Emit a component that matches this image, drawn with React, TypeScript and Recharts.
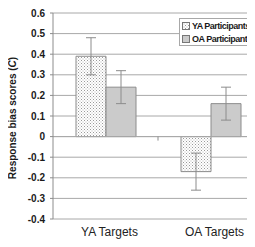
import {
  Bar,
  BarChart,
  CartesianGrid,
  ErrorBar,
  ReferenceLine,
  XAxis,
  YAxis,
} from "recharts";

const categories = ["YA Targets", "OA Targets"];
const yaParticipants = [0.39, -0.17];
const oaParticipants = [0.24, 0.16];
const yaErrors = [0.09, 0.09];
const oaErrors = [0.08, 0.08];
const yTicks = [-0.4, -0.3, -0.2, -0.1, 0, 0.1, 0.2, 0.3, 0.4, 0.5, 0.6];

const FONT = "'Liberation Sans', Arial, Helvetica, sans-serif";
const GRID = "#a8a8a8";
const EDGE = "#8c8c8c";
const OA_FILL = "#cbcbcb";

const data = categories.map((name, i) => ({
  name,
  ya: yaParticipants[i],
  oa: oaParticipants[i],
  yaErr: yaErrors[i],
  oaErr: oaErrors[i],
}));

const legendItems = [
  { label: "YA Participants", fill: "url(#dots)" },
  { label: "OA Participants", fill: OA_FILL },
];

/** Excel-style boxed legend, placed over the top-right of the plot. */
function LegendBox() {
  return (
    <div
      style={{
        position: "absolute",
        top: 18,
        left: 179,
        width: 90,
        border: `1px solid ${GRID}`,
        background: "#fff",
        padding: "0 0 0 2px",
        fontFamily: FONT,
        fontWeight: 700,
        fontSize: 9,
        letterSpacing: -0.5,
        color: "#1a1a1a",
        whiteSpace: "nowrap",
      }}
    >
      {legendItems.map((it) => (
        <div key={it.label} style={{ height: 13, display: "flex", alignItems: "center" }}>
          <svg width={8} height={8} style={{ marginRight: 2, flexShrink: 0 }}>
            <rect x={0.5} y={0.5} width={7} height={7} fill={it.fill} stroke="#777" />
          </svg>
          <span style={{ flexShrink: 0 }}>{it.label}</span>
        </div>
      ))}
    </div>
  );
}

// eslint-disable-next-line @typescript-eslint/no-explicit-any
function CategoryTick({ x, y, payload }: any) {
  return (
    <text
      x={x + 4}
      y={y + 9}
      textAnchor="middle"
      fontFamily={FONT}
      fontSize={12}
      fill="#222"
    >
      {payload.value}
    </text>
  );
}

// eslint-disable-next-line @typescript-eslint/no-explicit-any
function YLabel({ viewBox }: any) {
  const cx = viewBox.x + 16;
  const cy = viewBox.y + viewBox.height / 2 + 2;
  return (
    <text
      x={cx}
      y={cy}
      transform={`rotate(-90 ${cx} ${cy})`}
      textAnchor="middle"
      fontFamily={FONT}
      fontWeight={700}
      fontSize={10}
      fill="#1a1a1a"
    >
      Response bias scores (<tspan fontStyle="italic">C</tspan>)
    </text>
  );
}

// small category divider tick sitting on the zero line
// eslint-disable-next-line @typescript-eslint/no-explicit-any
function ZeroTick({ viewBox }: any) {
  const mx = viewBox.x + viewBox.width / 2;
  return <line x1={mx} x2={mx} y1={viewBox.y} y2={viewBox.y + 4} stroke={EDGE} />;
}

export default function App() {
  return (
    <div
      style={{
        width: 255,
        height: 247,
        margin: -8,
        overflow: "hidden",
        position: "relative",
        background: "#fff",
      }}
    >
      <BarChart
        width={270}
        height={247}
        data={data}
        margin={{ top: 13, right: 7, bottom: 0, left: 0 }}
        barGap={0}
        barSize={30}
      >
        <defs>
          <pattern id="dots" width={3} height={3} patternUnits="userSpaceOnUse">
            <rect width={3} height={3} fill="#fff" />
            <rect x={0} y={0} width={1} height={1} fill="#9a9a9a" />
            <rect x={1.5} y={1.5} width={1} height={1} fill="#b5b5b5" />
          </pattern>
        </defs>
        <CartesianGrid stroke={GRID} vertical={false} />
        <XAxis
          dataKey="name"
          height={28}
          axisLine={false}
          tickLine={false}
          tick={<CategoryTick />}
          interval={0}
        />
        <YAxis
          width={53}
          domain={[-0.4, 0.6]}
          ticks={yTicks}
          interval={0}
          stroke={EDGE}
          tickSize={3}
          tickMargin={5}
          tick={{ fontFamily: FONT, fontWeight: 700, fontSize: 10, fill: "#1a1a1a" }}
          tickFormatter={(v: number) => (v === 0 ? "0" : v.toFixed(1))}
          label={<YLabel />}
        />
        <ReferenceLine y={0} stroke={GRID} label={<ZeroTick />} />
        <Bar
          dataKey="ya"
          name="YA Participants"
          fill="url(#dots)"
          stroke={EDGE}
          strokeWidth={1}
          isAnimationActive={false}
        >
          <ErrorBar dataKey="yaErr" width={5} stroke={EDGE} strokeWidth={1} />
        </Bar>
        <Bar
          dataKey="oa"
          name="OA Participants"
          fill={OA_FILL}
          stroke={EDGE}
          strokeWidth={1}
          isAnimationActive={false}
        >
          <ErrorBar dataKey="oaErr" width={5} stroke={EDGE} strokeWidth={1} />
        </Bar>
      </BarChart>
      <LegendBox />
    </div>
  );
}
